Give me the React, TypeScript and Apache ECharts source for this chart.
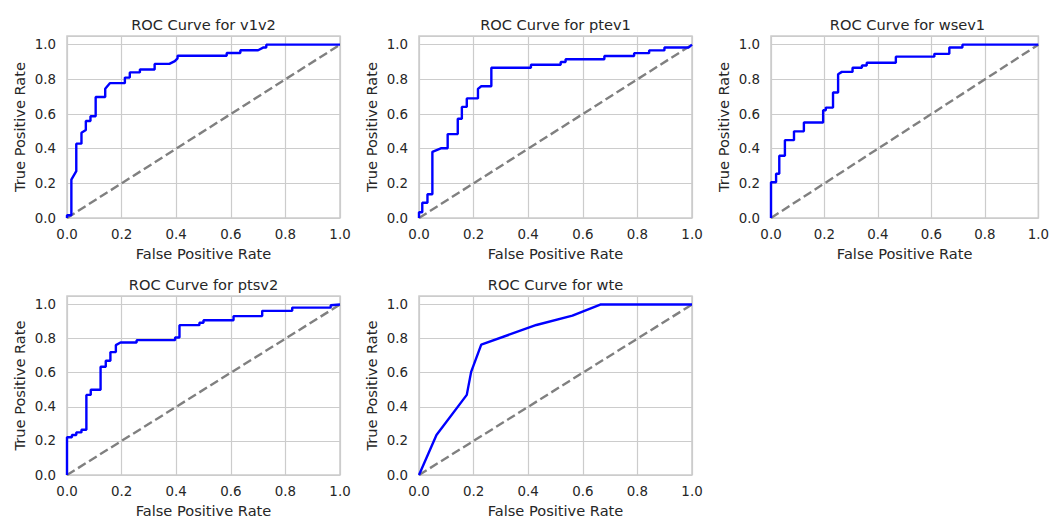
import React, { useEffect, useRef } from "react";
import * as echarts from "echarts";

const titles = ["ROC Curve for v1v2", "ROC Curve for ptev1", "ROC Curve for wsev1", "ROC Curve for ptsv2", "ROC Curve for wte"];

const fprV1v2 = [0, 0, 0.016, 0.016, 0.034, 0.034, 0.053, 0.053, 0.069, 0.069, 0.086, 0.086, 0.105, 0.105, 0.14, 0.14, 0.157, 0.212, 0.212, 0.23, 0.23, 0.267, 0.267, 0.321, 0.321, 0.375, 0.395, 0.405, 0.405, 0.585, 0.585, 0.635, 0.635, 0.7, 0.72, 0.73, 0.73, 1];
const tprV1v2 = [0, 0.016, 0.016, 0.222, 0.27, 0.429, 0.429, 0.492, 0.508, 0.56, 0.56, 0.587, 0.587, 0.698, 0.698, 0.746, 0.778, 0.778, 0.81, 0.81, 0.84, 0.84, 0.857, 0.857, 0.889, 0.889, 0.905, 0.921, 0.936, 0.936, 0.952, 0.952, 0.968, 0.968, 0.984, 0.984, 1, 1];

const fprPtev1 = [0, 0, 0.012, 0.012, 0.031, 0.031, 0.049, 0.049, 0.08, 0.105, 0.105, 0.142, 0.142, 0.157, 0.157, 0.175, 0.175, 0.216, 0.216, 0.228, 0.265, 0.265, 0.41, 0.41, 0.519, 0.519, 0.537, 0.537, 0.679, 0.679, 0.788, 0.788, 0.843, 0.843, 0.899, 0.899, 0.988, 1];
const tprPtev1 = [0, 0.033, 0.033, 0.088, 0.088, 0.137, 0.137, 0.382, 0.402, 0.402, 0.484, 0.484, 0.573, 0.573, 0.641, 0.641, 0.69, 0.69, 0.745, 0.76, 0.76, 0.867, 0.867, 0.884, 0.884, 0.9, 0.9, 0.916, 0.916, 0.935, 0.935, 0.951, 0.951, 0.967, 0.967, 0.984, 0.984, 1];

const fprWsev1 = [0, 0, 0.019, 0.019, 0.031, 0.031, 0.052, 0.052, 0.086, 0.086, 0.123, 0.123, 0.195, 0.195, 0.205, 0.205, 0.232, 0.232, 0.251, 0.251, 0.265, 0.305, 0.305, 0.34, 0.34, 0.358, 0.358, 0.467, 0.467, 0.611, 0.611, 0.667, 0.667, 0.716, 0.716, 1];
const tprWsev1 = [0, 0.206, 0.206, 0.255, 0.255, 0.359, 0.359, 0.449, 0.449, 0.5, 0.5, 0.551, 0.551, 0.622, 0.622, 0.637, 0.637, 0.724, 0.724, 0.829, 0.843, 0.843, 0.867, 0.867, 0.88, 0.88, 0.896, 0.896, 0.931, 0.931, 0.947, 0.947, 0.984, 0.984, 1, 1];

const fprPtsv2 = [0, 0, 0.018, 0.018, 0.034, 0.034, 0.053, 0.053, 0.071, 0.071, 0.087, 0.087, 0.123, 0.123, 0.142, 0.142, 0.159, 0.159, 0.179, 0.179, 0.196, 0.255, 0.255, 0.396, 0.396, 0.412, 0.412, 0.485, 0.485, 0.5, 0.5, 0.61, 0.61, 0.715, 0.715, 0.825, 0.825, 0.966, 0.966, 1];
const tprPtsv2 = [0, 0.221, 0.221, 0.235, 0.235, 0.25, 0.25, 0.265, 0.265, 0.47, 0.47, 0.5, 0.5, 0.635, 0.635, 0.67, 0.67, 0.721, 0.721, 0.762, 0.777, 0.777, 0.791, 0.791, 0.807, 0.807, 0.879, 0.879, 0.893, 0.893, 0.908, 0.908, 0.932, 0.932, 0.963, 0.963, 0.982, 0.982, 0.996, 1];

const fprWte = [0, 0.064, 0.175, 0.191, 0.228, 0.43, 0.562, 0.664, 1];
const tprWte = [0, 0.235, 0.47, 0.605, 0.765, 0.88, 0.935, 1, 1];

const curves = [
  [fprV1v2, tprV1v2],
  [fprPtev1, tprPtev1],
  [fprWsev1, tprWsev1],
  [fprPtsv2, tprPtsv2],
  [fprWte, tprWte],
];

const chanceFpr = [0, 1];
const chanceTpr = [0, 1];

const xTicks = [0, 0.2, 0.4, 0.6, 0.8, 1.0];

const TXT = "#262626";
const GRID = "#cccccc";
const FONT = "DejaVu Sans";

const gridLefts = [67, 419, 771];
const gridTops = [36, 296];
const GW = 273;
const GH = 182;

export default function App() {
  const ref = useRef<HTMLDivElement>(null);
  useEffect(() => {
    if (!ref.current) return;
    const chart = echarts.init(ref.current, null, { renderer: "svg" });
    const grids: any[] = [];
    const xAxes: any[] = [];
    const yAxes: any[] = [];
    const series: any[] = [];
    const graphics: any[] = [];
    curves.forEach((c, i) => {
      const left = gridLefts[i % 3];
      const top = gridTops[Math.floor(i / 3)];
      grids.push({ left, top, width: GW, height: GH, show: true, borderColor: GRID, borderWidth: 1.5, backgroundColor: "#ffffff", containLabel: false });
      xAxes.push({
        type: "value", gridIndex: i, min: 0, max: 1, interval: 0.2,
        name: "False Positive Rate", nameLocation: "middle", nameGap: 28,
        nameTextStyle: { fontFamily: FONT, fontSize: 14.6, color: TXT },
        axisLine: { show: false }, axisTick: { show: false },
        axisLabel: { fontFamily: FONT, fontSize: 13.4, color: TXT, margin: 10, formatter: (v: number) => (xTicks.some((t) => Math.abs(t - v) < 1e-6) ? v.toFixed(1) : "") },
        splitLine: { show: true, lineStyle: { color: GRID, width: 1.2 } },
      });
      yAxes.push({
        type: "value", gridIndex: i, min: 0, max: 1.05, interval: 0.2,
        name: "True Positive Rate", nameLocation: "middle", nameGap: 40,
        nameTextStyle: { fontFamily: FONT, fontSize: 14.6, color: TXT },
        axisLine: { show: false }, axisTick: { show: false },
        axisLabel: { fontFamily: FONT, fontSize: 13.4, color: TXT, margin: 11, formatter: (v: number) => (v > 1.001 ? "" : v.toFixed(1)) },
        splitLine: { show: true, lineStyle: { color: GRID, width: 1.2 } },
      });
      series.push({
        type: "line", xAxisIndex: i, yAxisIndex: i, showSymbol: false, symbol: "none",
        data: chanceFpr.map((x, k) => [x, chanceTpr[k]]),
        lineStyle: { color: "#808080", width: 2.4, type: [9, 4] }, z: 2,
      });
      series.push({
        type: "line", xAxisIndex: i, yAxisIndex: i, showSymbol: false, symbol: "none",
        data: c[0].map((x, k) => [x, c[1][k]]),
        lineStyle: { color: "#0000ff", width: 2.4 }, z: 3,
      });
      graphics.push({
        type: "text", x: left + GW / 2, y: top - 12,
        style: { text: titles[i], font: `14.6px ${FONT}`, fill: TXT, align: "center", verticalAlign: "middle" },
      });
    });
    chart.setOption({
      animation: false,
      backgroundColor: "#ffffff",
      grid: grids,
      xAxis: xAxes,
      yAxis: yAxes,
      series,
      graphic: graphics,
    });
    return () => chart.dispose();
  }, []);
  return <div ref={ref} style={{ position: "absolute", left: 0, top: 0, width: 1052, height: 519 }} />;
}
